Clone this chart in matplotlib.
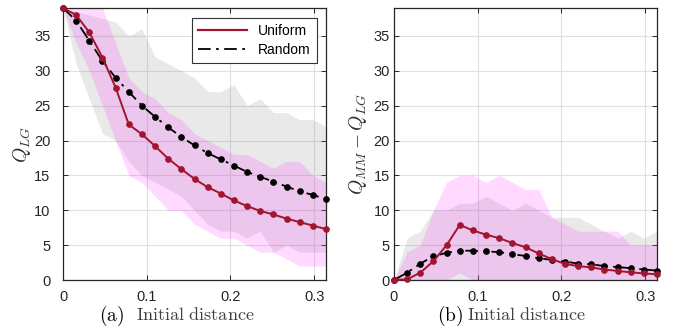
import numpy as np
import matplotlib
matplotlib.use("Agg")
import matplotlib.pyplot as plt
from matplotlib.lines import Line2D

plt.rcParams["font.family"] = ["Liberation Sans", "DejaVu Sans"]
plt.rcParams["mathtext.fontset"] = "cm"

# initial distance, 21 samples from 0 to pi/10
dist = np.linspace(0, np.pi / 10, 21)

# panel (a): Q_LG
uni_a = [39, 38.0, 35.5, 31.9, 27.6, 22.3, 20.9, 19.2, 17.4, 15.9, 14.5,
         13.3, 12.4, 11.4, 10.6, 9.9, 9.4, 8.8, 8.3, 7.8, 7.3]
rnd_a = [39, 37.2, 34.3, 31.4, 29.0, 27.0, 25.0, 23.4, 21.9, 20.5, 19.3,
         18.2, 17.3, 16.4, 15.5, 14.8, 14.1, 13.4, 12.7, 12.2, 11.6]
uni_a_hi = [39, 41, 41, 39, 34, 29, 27, 26, 24, 23, 21, 20, 19, 18, 18, 17, 16, 17, 17, 15, 14]
uni_a_lo = [39, 34, 30, 25, 20, 15, 14, 12, 10, 10, 8, 7, 6, 6, 5, 4, 4, 3, 2, 2, 2]
rnd_a_hi = [39, 38.5, 38, 37.5, 37, 35, 36, 32, 31, 30, 29, 27, 27, 28, 25, 26, 24, 24, 23, 23, 22]
rnd_a_lo = [39, 31, 26, 21, 20, 17, 15, 14, 13, 12, 10, 8, 7, 7, 6, 7, 4, 5, 4, 4, 4]

# panel (b): Q_MM - Q_LG
uni_b = [0, 0.1, 1.05, 2.7, 5.0, 7.9, 7.1, 6.5, 6.0, 5.3, 4.7,
         3.8, 3.0, 2.3, 2.0, 1.8, 1.5, 1.3, 1.1, 0.95, 0.8]
rnd_b = [0, 1.05, 2.35, 3.4, 3.9, 4.2, 4.2, 4.1, 4.0, 3.7, 3.45,
         3.1, 2.9, 2.65, 2.35, 2.25, 2.0, 1.85, 1.7, 1.5, 1.35]
uni_b_hi = [0, 4, 5, 10, 14, 15, 15, 14, 15, 14, 13, 13, 9, 8, 7, 7, 7, 7, 5, 5, 5]
uni_b_lo = [0, 0, 0, 0, 0, 1, 0, 0, 0, 0, 0, 0, 0, 0, 0, 0, 0, 0, 0, 0, 0]
rnd_b_hi = [0, 6, 7, 10, 10, 11, 11, 12, 11, 10, 11, 10, 9, 9, 9, 8, 7, 6, 7, 6, 7]
rnd_b_lo = [0, 0, 0, 0, 0, 0, 0, 0, 0, 0, 0, 0, 0, 0, 0, 0, 0, 0, 0, 0, 0]

RED = "#a2142f"
dashdot = (0, (7, 3, 1.5, 3))


def draw_panel(ax, uni, rnd, uni_lo, uni_hi, rnd_lo, rnd_hi, ypad):
    ax.fill_between(dist, rnd_lo, rnd_hi, color="#808080", alpha=0.17, lw=0, zorder=1)
    ax.fill_between(dist, uni_lo, uni_hi, color="#ff00ff", alpha=0.15, lw=0, zorder=1)
    ax.plot(dist, rnd, color="black", ls=dashdot, lw=1.3, marker="o", ms=3.8,
            clip_on=False, zorder=4)
    ax.plot(dist, uni, color=RED, ls="-", lw=1.4, marker="o", ms=3.8,
            clip_on=False, zorder=5)
    ax.set_xlim(0, np.pi / 10)
    ax.set_ylim(0, 39)
    ax.set_xticks([0, 0.1, 0.2, 0.3])
    ax.set_xticklabels(["0", "0.1", "0.2", "0.3"])
    ax.set_yticks(range(0, 40, 5))
    ax.grid(True, color="#e0e0e0", lw=0.8)
    ax.set_axisbelow(True)
    ax.tick_params(direction="in", length=3.5, width=0.7, colors="#262626",
                   labelsize=10.5, top=True, right=True)
    ax.tick_params(axis="y", pad=ypad)
    ax.tick_params(axis="x", pad=7)
    for s in ax.spines.values():
        s.set_color("#262626")
        s.set_linewidth(0.9)


fig = plt.figure(figsize=(6.73, 3.3), dpi=100)
ax1 = fig.add_axes([63 / 673, 50 / 330, 263 / 673, 272 / 330])
ax2 = fig.add_axes([394 / 673, 50 / 330, 263 / 673, 272 / 330])

draw_panel(ax1, uni_a, rnd_a, uni_a_lo, uni_a_hi, rnd_a_lo, rnd_a_hi, 9)
draw_panel(ax2, uni_b, rnd_b, uni_b_lo, uni_b_hi, rnd_b_lo, rnd_b_hi, 3)

ax1.set_ylabel("$Q_{LG}$", fontsize=14, color="#333333", labelpad=1)
ax2.set_ylabel("$Q_{MM} - Q_{LG}$", fontsize=14, color="#333333", labelpad=3)

handles = [Line2D([], [], color=RED, lw=1.6),
           Line2D([], [], color="black", lw=1.3, ls=dashdot)]
leg = ax1.legend(handles, ["Uniform", "Random"], loc="upper right",
                 bbox_to_anchor=(0.966, 0.963), borderaxespad=0, fontsize=10,
                 handlelength=3.5, fancybox=False, framealpha=1,
                 edgecolor="#333333", borderpad=0.45, labelspacing=0.35)
leg.get_frame().set_linewidth(0.8)

fig.text(112 / 673, 1 - 316 / 330, r"$\mathrm{(a)}$", ha="center", va="center",
         fontsize=14, color="black")
fig.text(195 / 673, 1 - 316 / 330, r"$\mathrm{Initial\ distance}$", ha="center",
         va="center", fontsize=13, color="#404040")
fig.text(450 / 673, 1 - 316 / 330, r"$\mathrm{(b)}$", ha="center", va="center",
         fontsize=14, color="black")
fig.text(526 / 673, 1 - 316 / 330, r"$\mathrm{Initial\ distance}$", ha="center",
         va="center", fontsize=13, color="#404040")

fig.savefig("out.png", dpi=100)
